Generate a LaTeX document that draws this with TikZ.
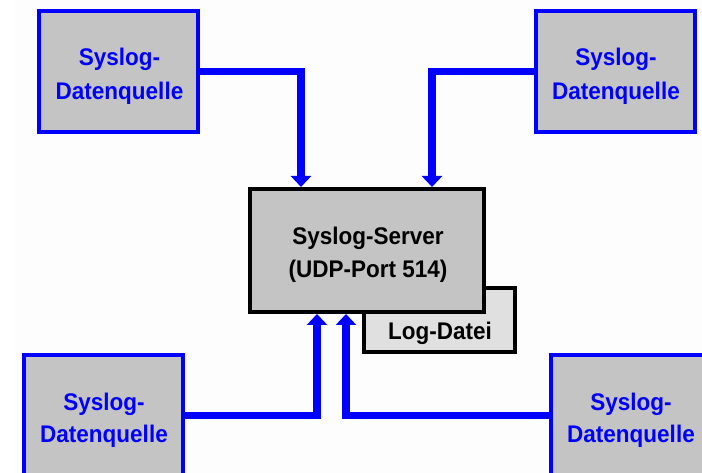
\documentclass[tikz,border=0pt]{standalone}
\usepackage{fontspec}
\setmainfont{Liberation Sans}
\usetikzlibrary{arrows.meta}
\definecolor{srcblue}{RGB}{0,0,255}
\definecolor{boxgrey}{RGB}{196,196,196}
\definecolor{loggrey}{RGB}{224,224,224}
\definecolor{bgwhite}{RGB}{253,253,253}
\newcommand\twolines[3]{\scalebox{1}[1.07]{\fontsize{22.5pt}{#3}\selectfont\bfseries\begin{tabular}[t]{@{}c@{}}#1\\#2\end{tabular}}}
\newcommand\oneline[1]{\scalebox{1}[1.07]{\fontsize{22.5pt}{27pt}\selectfont\bfseries #1}}
\tikzset{
  srcbox/.style={draw=srcblue, line width=3.5pt, fill=boxgrey, minimum width=159pt, minimum height=121pt, inner sep=0pt},
  srctext/.style={anchor=base, inner sep=0pt, text=srcblue},
  srvbox/.style={draw=black, line width=4pt, fill=boxgrey, minimum width=234pt, minimum height=123pt, inner sep=0pt},
  logbox/.style={draw=black, line width=4pt, fill=loggrey, minimum width=151pt, minimum height=64pt, inner sep=0pt},
  blacktext/.style={anchor=base, inner sep=0pt},
  arr/.style={draw=srcblue, line width=7.5pt, line join=miter, -{Triangle[width=20pt,length=11pt]}}
}
\begin{document}
\begin{tikzpicture}[x=1pt,y=-1pt]
\useasboundingbox (0,0) rectangle (702,473);
\clip (0,0) rectangle (702,473);
\fill[white] (0,0) rectangle (702,473);
\fill[bgwhite] (15,0) rectangle (702,473);
\node[srcbox] (tl) at (118.5,71.5) {};
\node[srcbox] (tr) at (615.5,71.5) {};
\node[srcbox] (bl) at (103.5,415.5) {};
\node[srcbox] (br) at (630.5,415.5) {};
\node[srctext] (tlt) at (119.5,65.5) {\twolines{Syslog-}{Datenquelle}{31.8pt}};
\node[srctext] (trt) at (616,65.5) {\twolines{Syslog-}{Datenquelle}{31.8pt}};
\node[srctext] (blt) at (104,410) {\twolines{Syslog-}{Datenquelle}{30pt}};
\node[srctext] (brt) at (631,410) {\twolines{Syslog-}{Datenquelle}{30pt}};
\node[logbox] (log) at (439.5,320) {};
\node[blacktext] (logtxt) at (440,340) {\oneline{Log-Datei}};
\node[srvbox] (srv) at (367,250.5) {};
\node[blacktext] (srvt) at (368,245) {\twolines{Syslog-Server}{(UDP-Port 514)}{30pt}};
\draw[arr] (tl.east) -| ([xshift=53pt]srv.north west);
\draw[arr] (tr.west) -| ([xshift=184pt]srv.north west);
\draw[arr] (bl.east) -| ([xshift=69pt]srv.south west);
\draw[arr] (br.west) -| ([xshift=98pt]srv.south west);
\end{tikzpicture}
\end{document}
